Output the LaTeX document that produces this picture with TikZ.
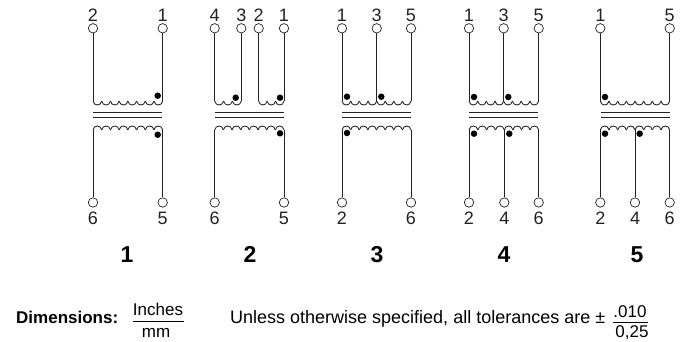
\documentclass[tikz,border=0pt]{standalone}
\usepackage{fontspec}
\setmainfont{Liberation Sans}
\definecolor{ink}{HTML}{222222}
\tikzset{
  term/.style={circle,draw=ink,line width=0.7pt,fill=white,minimum size=9.4pt,inner sep=0pt},
  pin/.style={font=\fontsize{18}{18}\selectfont,text=ink,inner sep=0pt},
  wire/.style={draw=ink,line width=0.85pt},
  corel/.style={draw=ink,line width=1.5pt},
  polar/.style={circle,fill=black,minimum size=6.5pt,inner sep=0pt},
  bignum/.style={font=\fontsize{23}{24}\selectfont\bfseries,text=black,inner sep=0pt},
  note/.style={font=\fontsize{17}{18}\selectfont,text=black,inner sep=0pt},
}
% \tp{name}{x}{label}: top terminal, \bp: bottom terminal
\newcommand{\tp}[3]{\node[term] (#1) at (#2,28.3) {}; \node[pin] (#1l) at (#2,15.5) {#3};}
\newcommand{\bp}[3]{\node[term] (#1) at (#2,202.5) {}; \node[pin] (#1l) at (#2,218.5) {#3};}
% \arcs{x1}{x2}{n}{y}{depth}
\newcommand{\arcs}[5]{%
  \pgfmathsetmacro{\wstep}{(#2-#1)/#3}%
  \foreach \i in {1,...,#3}{%
    \pgfmathsetmacro{\xa}{#1+(\i-1)*\wstep}%
    \pgfmathsetmacro{\xb}{\xa+\wstep}%
    \pgfmathsetmacro{\ca}{\xa+0.08*\wstep}%
    \pgfmathsetmacro{\cb}{\xb-0.08*\wstep}%
    \pgfmathsetmacro{\yc}{#4+1.33*#5}%
    \draw[wire] (\xa,#4) .. controls (\ca,\yc) and (\cb,\yc) .. (\xb,#4);
  }}
% \topw{A}{B}{xa}{xb}{n}  \botw likewise
\newcommand{\topw}[5]{\draw[wire] (#1) -- (#1 |- 0,101); \draw[wire] (#2) -- (#2 |- 0,101); \arcs{#3}{#4}{#5}{101}{4}}
\newcommand{\botw}[5]{\draw[wire] (#1) -- (#1 |- 0,130); \draw[wire] (#2) -- (#2 |- 0,130); \arcs{#3}{#4}{#5}{130}{-4}}
\newcommand{\core}[3]{%
  \coordinate (#1a) at (#2,112.5); \coordinate (#1b) at (#3,112.5);
  \coordinate (#1c) at (#2,117.7); \coordinate (#1d) at (#3,117.7);
  \draw[corel] (#1a) -- (#1b); \draw[corel] (#1c) -- (#1d);}
\begin{document}
\begin{tikzpicture}[x=1pt,y=-1pt]
\useasboundingbox (0,0) rectangle (686,341);
% panel 1
\tp{aa}{93}{2}\tp{ab}{162.7}{1}\bp{ac}{93}{6}\bp{ad}{162.7}{5}
\topw{aa}{ab}{93}{162.7}{8}\botw{ac}{ad}{93}{162.7}{8}
\core{a}{93}{162}
\node[polar] (ap) at (157.7,95.7) {}; \node[polar] (aq) at (157.7,134.7) {};
% panel 2
\tp{ba}{214.7}{4}\tp{bb}{241.3}{3}\tp{be}{258.7}{2}\tp{bf}{284}{1}\bp{bc}{214.7}{6}\bp{bd}{284}{5}
\topw{ba}{bb}{214.7}{241.3}{3}\topw{be}{bf}{258.7}{284}{3}\botw{bc}{bd}{214.7}{284}{8}
\core{b}{215}{284}
\node[polar] (bp) at (235.7,97.7) {}; \node[polar] (bq) at (280,97.7) {}; \node[polar] (br) at (280,133.3) {};
% panel 3
\tp{ca}{342}{1}\tp{cb}{376.7}{3}\tp{ce}{411}{5}\bp{cc}{342}{2}\bp{cd}{411}{6}
\topw{ca}{cb}{342}{376.7}{4}\topw{cb}{ce}{376.7}{411}{4}\botw{cc}{cd}{342}{411}{8}
\core{c}{342}{411}
\node[polar] (cp) at (347,96.7) {}; \node[polar] (cq) at (381.3,96.7) {}; \node[polar] (cr) at (347,133) {};
% panel 4
\tp{da}{469}{1}\tp{db}{503.7}{3}\tp{de}{538.7}{5}\bp{dc}{469}{2}\bp{df}{504.3}{4}\bp{dd}{538.7}{6}
\topw{da}{db}{469}{503.7}{4}\topw{db}{de}{503.7}{538.7}{4}\botw{dc}{df}{469}{504.3}{4}\botw{df}{dd}{504.3}{538.7}{4}
\core{d}{469}{538}
\node[polar] (dp) at (474,97) {}; \node[polar] (dq) at (508.3,97) {}; \node[polar] (dr) at (474,133.7) {}; \node[polar] (ds) at (509.3,133.7) {};
% panel 5
\tp{ea}{600.3}{1}\tp{eb}{669.7}{5}\bp{ec}{600.3}{2}\bp{ef}{635}{4}\bp{ed}{669.7}{6}
\topw{ea}{eb}{600.3}{669.7}{8}\botw{ec}{ef}{600.3}{635}{4}\botw{ef}{ed}{635}{669.7}{4}
\core{e}{600.5}{669.5}
\node[polar] (ep) at (605,97) {}; \node[polar] (er) at (605,133.7) {}; \node[polar] (es) at (639.7,133.7) {};
% panel numbers
\node[bignum,anchor=base] (n1) at (127,262) {1};
\node[bignum,anchor=base] (n2) at (250,262) {2};
\node[bignum,anchor=base] (n3) at (377,262) {3};
\node[bignum,anchor=base] (n4) at (504,262) {4};
\node[bignum,anchor=base] (n5) at (637,262) {5};
% footer
\node[note,font=\fontsize{17}{18}\selectfont\bfseries,anchor=west] (dim) at (16,317) {Dimensions:};
\node[note] (inch) at (158,309.5) {Inches};
\node[note] (mm) at (156,333) {mm};
\coordinate (ra) at (133,321); \coordinate (rb) at (183.5,321);
\draw[draw=black,line width=0.8pt] (ra) -- (rb);
\node[note,font=\fontsize{18}{18}\selectfont,anchor=west] (unless) at (230,319) {Unless otherwise specified, all tolerances are ±};
\node[note] (n010) at (630,312) {.010};
\node[note] (n025) at (632,333) {0,25};
\coordinate (sa) at (613,322); \coordinate (sb) at (648,322);
\draw[draw=black,line width=0.8pt] (sa) -- (sb);
\end{tikzpicture}
\end{document}
